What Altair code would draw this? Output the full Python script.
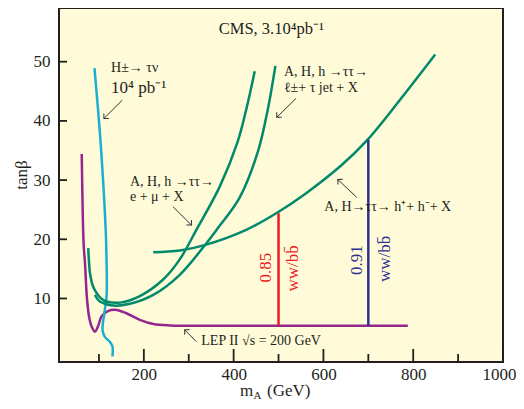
import altair as alt
import pandas as pd

# ---------------- data ----------------
lep_x = [61.6, 64, 66, 69, 73, 78, 84, 91, 98, 106, 121, 136, 161, 191, 221, 258, 300, 788]
lep_y = [34.4, 24.0, 19.0, 15.9, 10.3, 6.9, 5.2, 4.4, 5.3, 7.0, 7.9, 8.1, 7.5, 6.4, 5.7, 5.45, 5.4, 5.4]

hnu_x = [90, 104, 115, 117, 117, 112, 108, 113, 124, 130, 130]
hnu_y = [48.9, 36.0, 21.6, 16.0, 10.4, 7.5, 4.7, 3.5, 2.7, 1.9, 0.2]

emu_x = [76, 78, 80, 86, 95, 105, 117, 147, 191, 243, 280, 317, 369, 409, 428, 447]
emu_y = [18.5, 16.0, 14.3, 12.2, 10.9, 10.0, 9.5, 9.3, 10.4, 13.2, 16.6, 21.6, 28.9, 36.5, 41.9, 48.4]

ljet_x = [91, 100, 110, 132, 169, 221, 280, 339, 365, 413, 454, 476, 493]
ljet_y = [10.6, 9.6, 9.2, 8.8, 9.1, 10.6, 14.0, 19.3, 21.9, 27.0, 34.8, 41.9, 49.3]

hh_x = [221, 280, 339, 428, 495, 560, 640, 698, 769, 849]
hh_y = [17.8, 18.1, 19.1, 21.6, 24.4, 27.7, 32.5, 36.8, 43.4, 51.2]

# vertical ww/bb lines
vline_x = [500, 700]
vline_y1 = [5.4, 5.4]
vline_y2 = [24.4, 36.8]
vline_color = ["#ED1C24", "#2E3192"]

x_major = [200, 400, 600, 800, 1000]
x_minor = [100, 300, 500, 700, 900]
y_major = [10, 20, 30, 40, 50]

# annotation texts (left aligned)
lab_text = ["H\u00b1\u2192 \u03c4\u03bd", "10\u2074 pb\u207b\u00b9",
            "A, H, h \u2192\u03c4\u03c4\u2192", "e + \u03bc + X",
            "A, H, h \u2192\u03c4\u03c4\u2192", "\u2113\u00b1+ \u03c4 jet + X",
            "A, H\u2192\u03c4\u03c4\u2192 h\u207a+ h\u207b+ X",
            "LEP II \u221as = 200 GeV"]
lab_x = [127, 127, 169, 169, 512, 512, 602, 328]
lab_y = [48.3, 44.7, 29.0, 26.5, 47.6, 44.8, 24.7, 2.1]
lab_size = [14, 17, 14, 14, 14, 14, 14, 14]

# centered texts (title + rotated ww/bb labels)
ctext = ["CMS, 3.10\u2074pb\u207b\u00b9", "0.85", "ww/bb\u0304", "0.91", "ww/bb\u0304"]
ctext_x = [484, 484, 543, 687, 749]
ctext_y = [54.7, 15.2, 15.1, 16.5, 16.7]
ctext_angle = [0, 270, 270, 270, 270]
ctext_size = [16.5, 17, 17, 17, 17]
ctext_color = ["#231f20", "#ED1C24", "#ED1C24", "#2E3192", "#2E3192"]

# arrows: start -> end (head at end)
arr_x1 = [152, 265, 539, 674, 317]
arr_y1 = [43.5, 25.5, 43.8, 27.1, 2.7]
arr_x2 = [111, 306, 496, 632, 291]
arr_y2 = [40.4, 22.4, 40.6, 30.1, 4.7]
arr_angle = [225, 135, 225, 313, 315]

# ---------------- build tables ----------------
series = [("LEP", lep_x, lep_y), ("Hnu", hnu_x, hnu_y), ("emu", emu_x, emu_y),
          ("ljet", ljet_x, ljet_y), ("hh", hh_x, hh_y)]
rows = []
for name, xs_, ys_ in series:
    for i, (a, b) in enumerate(zip(xs_, ys_)):
        rows.append({"s": name, "i": i, "x": a, "y": b})
curves_df = pd.DataFrame(rows)

FONT = "Liberation Serif"
INK = "#231f20"
xs = alt.Scale(domain=[11, 1000], nice=False, zero=False)
ys = alt.Scale(domain=[-0.73, 59.07], nice=False, zero=False)

AX = alt.Axis(values=x_major, format="d", ticks=False, domain=False, grid=False,
              labelFont=FONT, labelFontSize=17, labelColor=INK,
              labelPadding=4, labelFlush=True, labelFlushOffset=13, labelOverlap=False,
              title=None, zindex=2)
AY = alt.Axis(values=y_major, format="d", ticks=False, domain=False, grid=False,
              labelFont=FONT, labelFontSize=17, labelColor=INK,
              labelPadding=9, labelFlush=False, labelOverlap=False,
              title=None, zindex=2)


def X(f):
    return alt.X(f, scale=xs, axis=AX)


def Y(f):
    return alt.Y(f, scale=ys, axis=AY)


curves = alt.Chart(curves_df).mark_line(interpolate="catmull-rom", strokeWidth=2.5).encode(
    x=X("x:Q"),
    y=Y("y:Q"),
    color=alt.Color("s:N", scale=alt.Scale(domain=["LEP", "Hnu", "emu", "ljet", "hh"],
                                           range=["#93278F", "#1AAFD0", "#00896A", "#00896A", "#00896A"]),
                    legend=None),
    detail="s:N",
    order="i:Q",
)

vdf = pd.DataFrame({"x": vline_x, "y1": vline_y1, "y2": vline_y2, "c": vline_color})
vlines = alt.Chart(vdf).mark_rule(strokeWidth=2.5).encode(
    x=X("x:Q"), y=Y("y1:Q"), y2="y2:Q",
    color=alt.Color("c:N", scale=None),
)

H = 354
xmaj = alt.Chart(pd.DataFrame({"x": x_major})).mark_rule(color=INK, strokeWidth=1.8).encode(
    x=X("x:Q"), y=alt.value(H), y2=alt.value(H - 13))
xmin = alt.Chart(pd.DataFrame({"x": x_minor})).mark_rule(color=INK, strokeWidth=1.8).encode(
    x=X("x:Q"), y=alt.value(H), y2=alt.value(H - 8))
ymaj = alt.Chart(pd.DataFrame({"y": y_major})).mark_rule(color=INK, strokeWidth=1.8).encode(
    y=Y("y:Q"), x=alt.value(0), x2=alt.value(8))

ldf = pd.DataFrame({"t": lab_text, "x": lab_x, "y": lab_y, "fs": lab_size})
labels = alt.Chart(ldf).mark_text(align="left", baseline="alphabetic", font=FONT, color=INK).encode(
    x=X("x:Q"), y=Y("y:Q"),
    text="t:N", size=alt.Size("fs:Q", scale=None))

cdf = pd.DataFrame({"t": ctext, "x": ctext_x, "y": ctext_y, "a": ctext_angle,
                    "fs": ctext_size, "c": ctext_color})
clabels = alt.Chart(cdf).mark_text(align="center", baseline="alphabetic", font=FONT).encode(
    x=X("x:Q"), y=Y("y:Q"),
    text="t:N", size=alt.Size("fs:Q", scale=None), angle=alt.Angle("a:Q", scale=None),
    color=alt.Color("c:N", scale=None))

adf = pd.DataFrame({"x": arr_x1, "y": arr_y1, "x2": arr_x2, "y2": arr_y2, "a": arr_angle})
shafts = alt.Chart(adf).mark_rule(color="#333333", strokeWidth=1).encode(
    x=X("x:Q"), y=Y("y:Q"), x2="x2:Q", y2="y2:Q")
hdf = pd.DataFrame({"x": arr_x2, "y": arr_y2, "a": arr_angle})
heads = alt.Chart(hdf).mark_point(shape="M -1 1 L 0 0 L 1 1", filled=False, size=50,
                                  color="#333333", strokeWidth=1, opacity=1).encode(
    x=X("x:Q"), y=Y("y:Q"), angle=alt.Angle("a:Q", scale=None))

# axis titles
ytitle = alt.Chart(pd.DataFrame({"t": ["tan\u03b2"]})).mark_text(
    font=FONT, fontSize=17, angle=270, align="center", baseline="alphabetic", color=INK).encode(
    text="t:N", x=alt.value(-32.5), y=alt.value(167))
xt1 = alt.Chart(pd.DataFrame({"t": ["m"]})).mark_text(
    font=FONT, fontSize=17, align="left", baseline="alphabetic", color=INK).encode(
    text="t:N", x=alt.value(181), y=alt.value(388))
xt2 = alt.Chart(pd.DataFrame({"t": ["A"]})).mark_text(
    font=FONT, fontSize=11, align="left", baseline="alphabetic", color=INK).encode(
    text="t:N", x=alt.value(194.5), y=alt.value(390.5))
xt3 = alt.Chart(pd.DataFrame({"t": ["(GeV)"]})).mark_text(
    font=FONT, fontSize=17, align="left", baseline="alphabetic", color=INK).encode(
    text="t:N", x=alt.value(208), y=alt.value(388))

chart = alt.layer(curves, vlines, xmaj, xmin, ymaj, shafts, heads, labels, clabels,
                  ytitle, xt1, xt2, xt3).properties(
    width=444, height=354,
    autosize=alt.AutoSizeParams(type="none"),
    padding={"left": 51, "top": 0, "right": 13, "bottom": 39},
    background="white",
).configure_view(fill="#FFFBD9", stroke=INK, strokeWidth=2)

chart.save("out.html", embed_options={"renderer": "svg", "actions": False})
